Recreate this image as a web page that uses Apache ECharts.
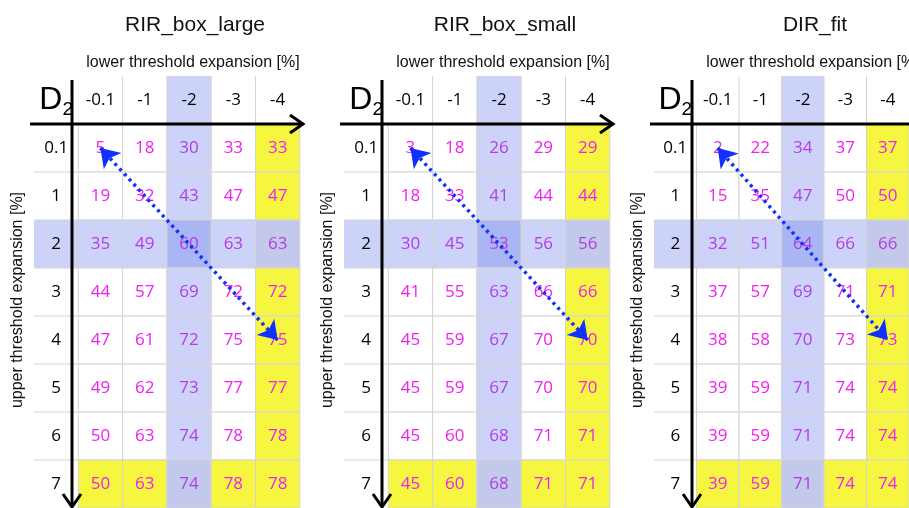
<!DOCTYPE html>
<html><head><meta charset="utf-8">
<script src="https://cdn.jsdelivr.net/npm/echarts@6/dist/echarts.min.js"></script>
<style>html,body{margin:0;padding:0;background:#fff}#main{width:909px;height:508px}</style>
</head><body><div id="main"></div>
<script>
const titles = ['RIR_box_large', 'RIR_box_small', 'DIR_fit'];
const colLabels = ['-0.1', '-1', '-2', '-3', '-4'];
const rowLabels = ['0.1', '1', '2', '3', '4', '5', '6', '7'];
const boxLarge = [
  [5, 18, 30, 33, 33], [19, 32, 43, 47, 47], [35, 49, 60, 63, 63], [44, 57, 69, 72, 72],
  [47, 61, 72, 75, 75], [49, 62, 73, 77, 77], [50, 63, 74, 78, 78], [50, 63, 74, 78, 78]
];
const boxSmall = [
  [3, 18, 26, 29, 29], [18, 33, 41, 44, 44], [30, 45, 53, 56, 56], [41, 55, 63, 66, 66],
  [45, 59, 67, 70, 70], [45, 59, 67, 70, 70], [45, 60, 68, 71, 71], [45, 60, 68, 71, 71]
];
const dirFit = [
  [2, 22, 34, 37, 37], [15, 35, 47, 50, 50], [32, 51, 64, 66, 66], [37, 57, 69, 71, 71],
  [38, 58, 70, 73, 73], [39, 59, 71, 74, 74], [39, 59, 71, 74, 74], [39, 59, 71, 74, 74]
];
const panels = [boxLarge, boxSmall, dirFit];
const blueCol = 2, blueRow = 2, yellowCol = 4, yellowRow = 7;

const BLUE = '#cdd3f8', DBLUE = '#aab5f3', YELLOW = '#f6f640', BY = '#c3c9ea';
function cellColor(c, r) {
  const b1 = c === blueCol, b2 = r === blueRow;
  const y = c === yellowCol || r === yellowRow;
  if (b1 && b2) return DBLUE;
  if (b1 || b2) return y ? BY : BLUE;
  return y ? YELLOW : '#ffffff';
}

const myChart = echarts.init(document.getElementById('main'));
const grids = [], xAxes = [], yAxes = [], series = [], titleOpts = [], graphics = [];
const cw = 44.3, rh = 48.5;
panels.forEach((vals, p) => {
  const off = p * 310;
  grids.push({ left: 34 + off, top: 76, width: cw * 6, height: rh * 9 });
  xAxes.push({ type: 'category', gridIndex: p, data: ['', ...colLabels], show: false });
  yAxes.push({ type: 'category', gridIndex: p, data: ['', ...rowLabels], inverse: true, show: false });
  const data = [];
  data.push({ value: [0, 0], text: '{d|D}{s|2}', fill: '#fff', color: '#000' });
  colLabels.forEach((l, c) => data.push({ value: [c + 1, 0], text: l, fill: c === blueCol ? BLUE : '#fff', color: '#000' }));
  rowLabels.forEach((l, r) => {
    data.push({ value: [0, r + 1], text: l, fill: r === blueRow ? BLUE : '#fff', color: '#000' });
    vals[r].forEach((v, c) => {
      const fill = cellColor(c, r);
      data.push({ value: [c + 1, r + 1, v], text: String(v), fill, color: fill === '#ffffff' || fill === YELLOW ? '#f020f0' : '#b23ce6' });
    });
  });
  series.push({
    type: 'custom', xAxisIndex: p, yAxisIndex: p, data,
    renderItem: (params, api) => {
      const it = data[params.dataIndex];
      const cx = api.value(0), cy = api.value(1);
      const pt = api.coord([cx, cy]);
      const sz = api.size([1, 1]);
      const x0 = pt[0] - sz[0] / 2, y0 = pt[1] - sz[1] / 2;
      const isHead = cx === 0 || cy === 0;
      const kids = [
        { type: 'rect', shape: { x: x0, y: y0, width: sz[0], height: sz[1] },
          style: { fill: it.fill, stroke: isHead ? null : '#d4d4d4', lineWidth: 1 } }
      ];
      if (cy === 0 && cx >= 2) kids.push({ type: 'line', shape: { x1: x0, y1: y0, x2: x0, y2: y0 + sz[1] }, style: { stroke: '#d4d4d4', lineWidth: 1 } });
      if (cx === 0 && cy >= 2) kids.push({ type: 'line', shape: { x1: x0, y1: y0, x2: x0 + sz[0], y2: y0 }, style: { stroke: '#d4d4d4', lineWidth: 1 } });
      kids.push({ type: 'text', x: pt[0], y: pt[1], style: {
        text: it.text, fill: it.color, align: 'center', verticalAlign: 'middle',
        font: '17px "Open Sans", sans-serif',
        rich: { d: { fontSize: 32, fontFamily: 'Liberation Sans', fill: '#000' },
                s: { fontSize: 19, fontFamily: 'Liberation Sans', fill: '#000', padding: [20, 0, 0, 0] } } } });
      return { type: 'group', children: kids };
    }
  });
  series.push({
    type: 'lines', coordinateSystem: 'cartesian2d', xAxisIndex: p, yAxisIndex: p, z: 5,
    symbol: ['arrow', 'arrow'], symbolSize: 18,
    lineStyle: { color: '#1030ff', width: 3.5, type: [3, 4], opacity: 1 },
    data: [{ coords: [[1.3, 1.25], [4.85, 4.9]] }]
  });
  titleOpts.push({ text: titles[p], left: 190 + off, top: 10, textAlign: 'center',
    textStyle: { fontSize: 21, fontWeight: 'normal', fontFamily: 'Liberation Sans', color: '#111' } });
  titleOpts.push({ text: 'lower threshold expansion [%]', left: 188 + off, top: 50, textAlign: 'center',
    textStyle: { fontSize: 16, fontWeight: 'normal', fontFamily: 'Liberation Sans', color: '#111' } });
  graphics.push(
    { type: 'text', x: 18 + off, y: 300, rotation: Math.PI / 2, style: { text: 'upper threshold expansion [%]',
      font: '16px "Liberation Sans"', fill: '#111', align: 'center', verticalAlign: 'middle' }, z: 10 },
    { type: 'line', shape: { x1: 30 + off, y1: 124, x2: 303 + off, y2: 124 }, style: { stroke: '#000', lineWidth: 3 }, z: 10 },
    { type: 'polyline', shape: { points: [[290 + off, 115], [303 + off, 124], [290 + off, 133]] }, style: { stroke: '#000', lineWidth: 3, fill: null }, z: 10 },
    { type: 'line', shape: { x1: 72 + off, y1: 80, x2: 72 + off, y2: 507 }, style: { stroke: '#000', lineWidth: 3 }, z: 10 },
    { type: 'polyline', shape: { points: [[63 + off, 494], [72 + off, 507], [81 + off, 494]] }, style: { stroke: '#000', lineWidth: 3, fill: null }, z: 10 }
  );
});
myChart.setOption({
  backgroundColor: '#fff', animation: false,
  title: titleOpts, grid: grids, xAxis: xAxes, yAxis: yAxes, series, graphic: graphics
});
</script></body></html>
